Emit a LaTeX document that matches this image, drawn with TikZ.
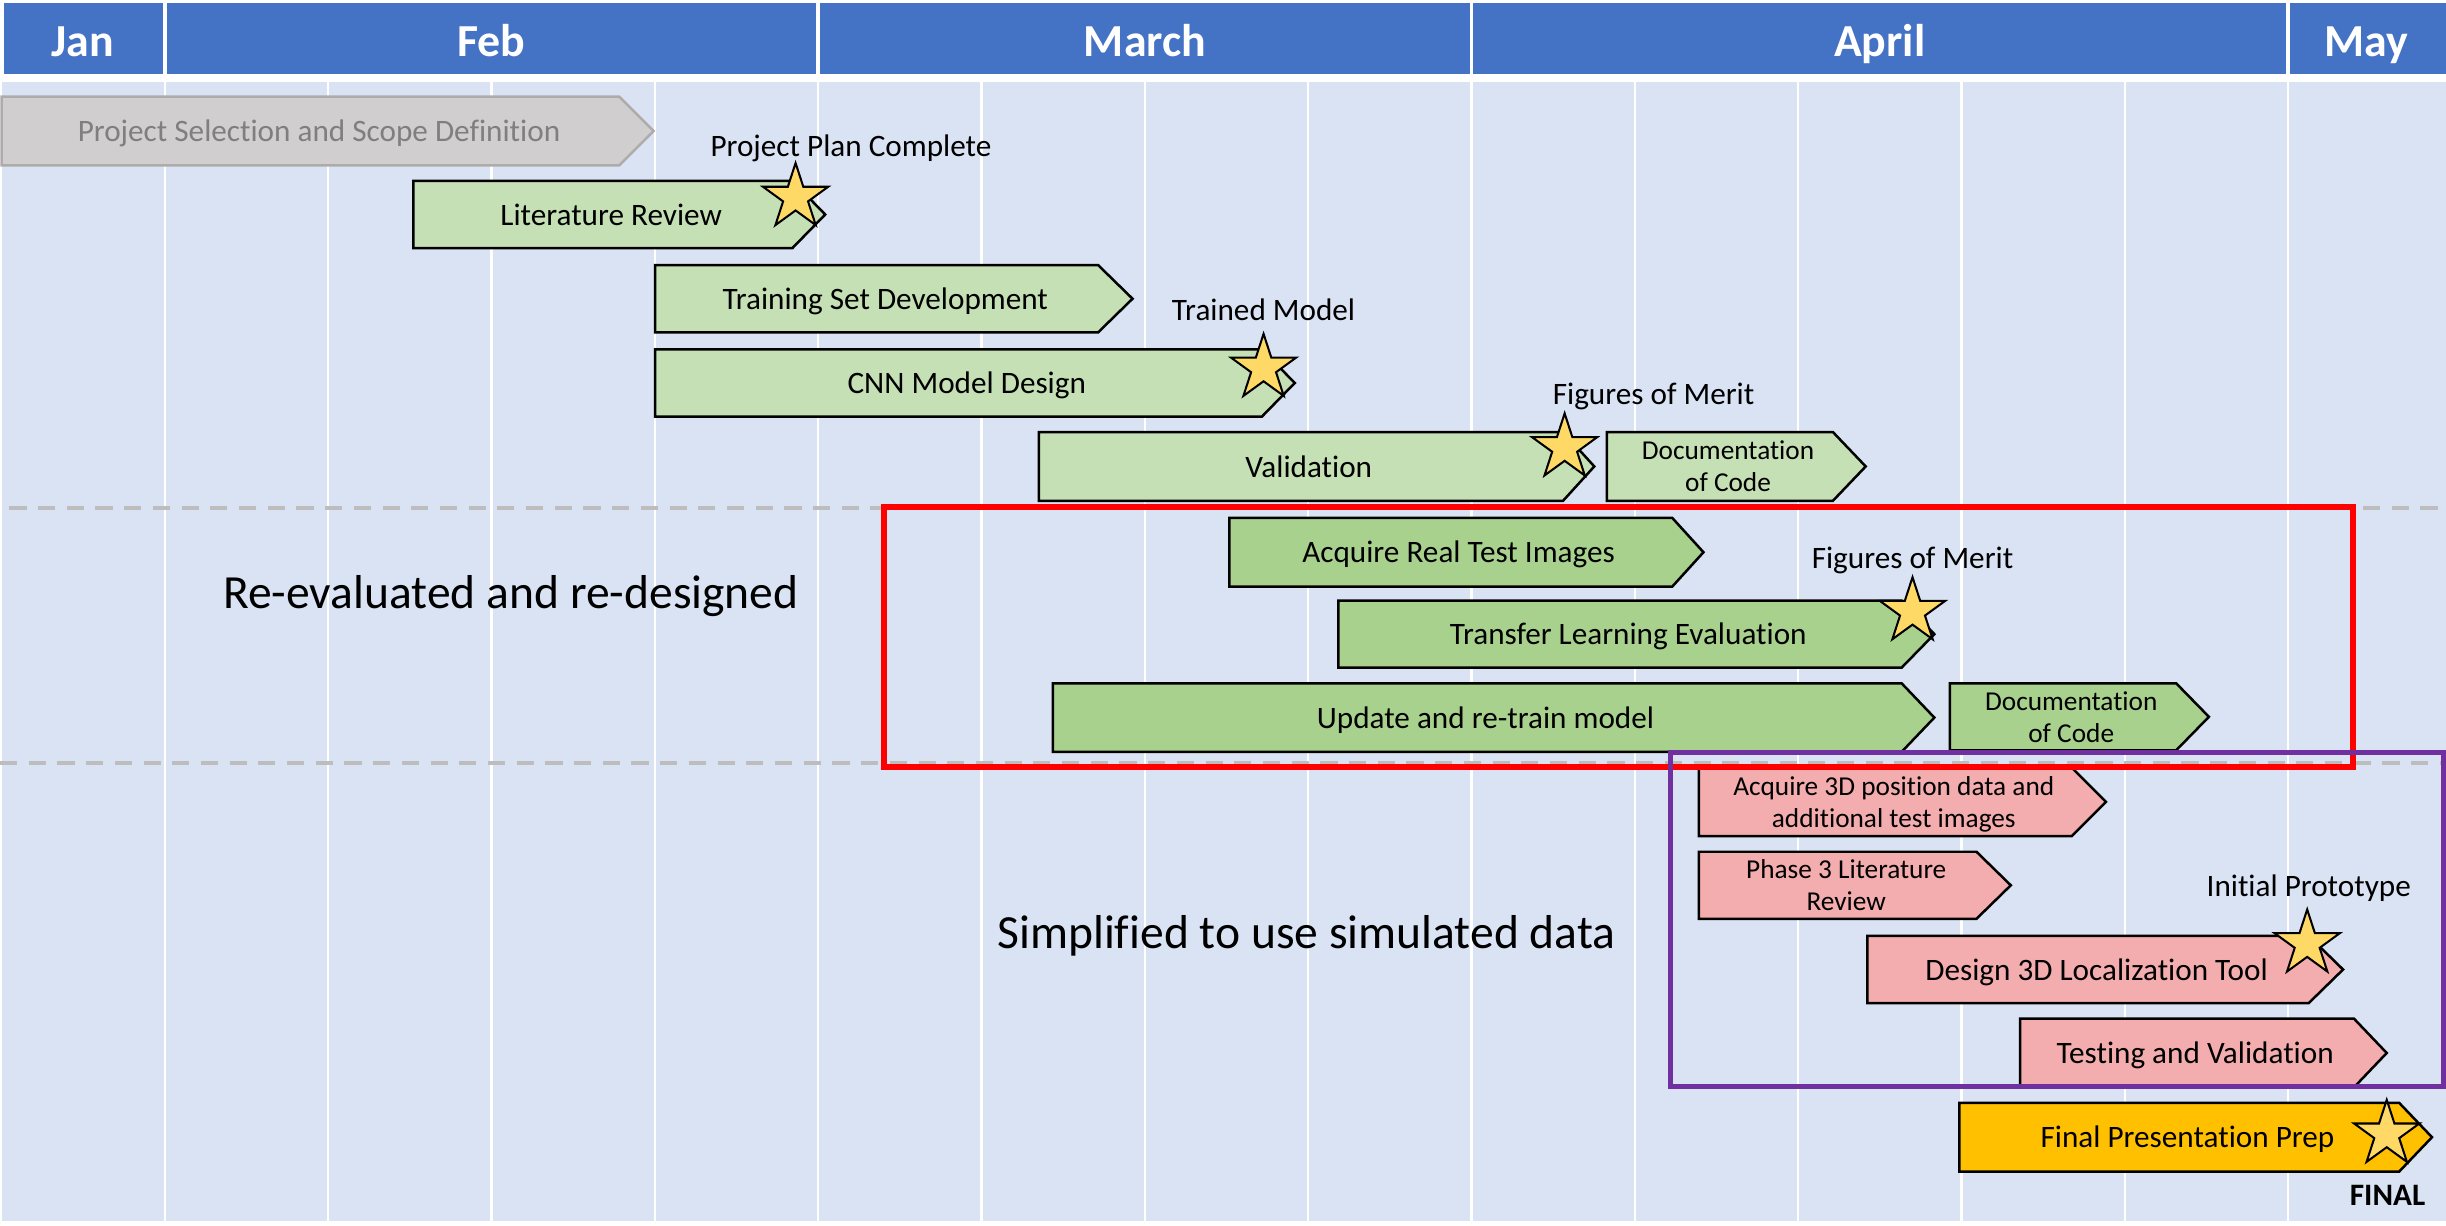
\documentclass[tikz,border=0pt]{standalone}
\usepackage{fontspec}
\setmainfont{Carlito}[Ligatures=NoCommon]
\usetikzlibrary{shapes.geometric}
\definecolor{hdr}{HTML}{4472C4}
\definecolor{bodybg}{HTML}{DAE3F3}
\definecolor{dashgray}{HTML}{BDBDBD}
\definecolor{grayfill}{HTML}{D0CECE}
\definecolor{graydraw}{HTML}{AFABAB}
\definecolor{graytext}{HTML}{7F7F7F}
\definecolor{lgreen}{HTML}{C5E0B4}
\definecolor{dgreen}{HTML}{A9D18E}
\definecolor{pinkfill}{HTML}{F4ADAE}
\definecolor{orangefill}{HTML}{FFC000}
\definecolor{starfill}{HTML}{FFD966}
\definecolor{redbox}{HTML}{FF0000}
\definecolor{purplebox}{HTML}{7030A0}
\newcommand{\gtask}[8]{%
  \draw[#7] (#2,#5) -- (#3,#5) -- (#4,{(#5+#6)/2}) -- (#3,#6) -- (#2,#6) -- cycle;
  \node[tasktxt] (#1) at ({(#2+#3)/2+(#4-#3)/4},{(#5+#6)/2+6.8}) {#8};}
\newcommand{\gtasktwo}[9]{%
  \draw[#7] (#2,#5) -- (#3,#5) -- (#4,{(#5+#6)/2}) -- (#3,#6) -- (#2,#6) -- cycle;
  \node[smalltxt] (#1a) at ({(#2+#3)/2+(#4-#3)/4},{(#5+#6)/2-4.3}) {#8};
  \node[smalltxt] (#1b) at ({(#2+#3)/2+(#4-#3)/4},{(#5+#6)/2+16.2}) {#9};}
\begin{document}
\begin{tikzpicture}[x=1pt,y=-1pt,
  hdrtxt/.style={anchor=base, inner sep=0, text=white, font=\fontsize{29.4}{34}\selectfont\bfseries},
  tasktxt/.style={anchor=base, inner sep=0, text=black, font=\fontsize{20}{24}\selectfont},
  smalltxt/.style={anchor=base, inner sep=0, text=black, font=\fontsize{17.5}{21}\selectfont},
  lbltxt/.style={anchor=base, inner sep=0, text=black, font=\fontsize{20}{24}\selectfont},
  bigtxt/.style={anchor=base, inner sep=0, text=black, font=\fontsize{30.5}{36}\selectfont},
  lgtask/.style={fill=lgreen, draw=black, line width=1.6pt, line join=miter},
  dgtask/.style={fill=dgreen, draw=black, line width=1.6pt, line join=miter},
  pktask/.style={fill=pinkfill, draw=black, line width=1.6pt, line join=miter},
  ortask/.style={fill=orangefill, draw=black, line width=1.6pt, line join=miter},
  mstar/.style={star, star points=5, star point ratio=2.618, minimum size=44pt, inner sep=0,
    fill=starfill, draw=black, line width=1.3pt},
  gridline/.style={white, line width=1.5pt},
  sepline/.style={dashgray, line width=2.2pt, dash pattern=on 11pt off 7.4pt}
]
\useasboundingbox (0,0) rectangle (1568,785.3);
\fill[white] (0,0) rectangle (1568,785.3);
% header
\fill[hdr] (2.5,1.7) rectangle (1568,47.4);
\foreach \mx in {105.7,524.5,943.3,1466.8}
  \draw[white, line width=2.5pt] (\mx,0) -- (\mx,48);
\node[hdrtxt] (jan) at (53,36.3) {Jan};
\node[hdrtxt] (feb) at (315,36.3) {Feb};
\node[hdrtxt] (mar) at (734,36.3) {March};
\node[hdrtxt] (apr) at (1205,36.3) {April};
\node[hdrtxt] (may) at (1517,36.3) {May};
% body
\fill[bodybg] (1.6,52.4) rectangle (1568,783);
\foreach \k in {1,...,14}
  \draw[gridline] ({1+\k*104.7},52.4) -- ({1+\k*104.7},783);
% separators
\draw[sepline] (6,325.6) -- (1568,325.6);
\draw[sepline] (0,489) -- (1568,489);
% gray task
\draw[fill=grayfill, draw=graydraw, line width=1.6pt] (1,62) -- (397,62) -- (419,84) -- (397,106) -- (1,106) -- cycle;
\node[tasktxt, text=graytext] (pssd) at (204.5,90.8) {Project Selection and Scope Definition};
% tasks
\gtask{lit}{265}{508}{529}{116}{159}{lgtask}{Literature Review}
\gtask{tsd}{420}{704}{726}{170}{213}{lgtask}{Training Set Development}
\gtask{cnn}{420}{809}{830}{224}{267}{lgtask}{CNN Model Design}
\gtask{val}{666}{1002}{1022}{277}{321}{lgtask}{Validation}
\gtasktwo{doca}{1030}{1175}{1196}{277}{321}{lgtask}{Documentation}{of Code}
\gtask{acq}{788}{1072}{1092}{332}{376}{dgtask}{Acquire Real Test Images}
\gtask{tle}{858}{1219}{1240}{385}{428}{dgtask}{Transfer Learning Evaluation}
\gtask{upd}{675}{1219}{1240}{438}{482}{dgtask}{Update and re-train model}
\gtasktwo{docb}{1250}{1395}{1416}{438}{481}{dgtask}{Documentation}{of Code}
\gtasktwo{acqd}{1089}{1328}{1350}{492}{536}{pktask}{Acquire 3D position data and}{additional test images}
\gtasktwo{phl}{1089}{1267}{1289}{546}{589}{pktask}{Phase 3 Literature}{Review}
\gtask{dlt}{1197}{1480}{1502}{600}{643}{pktask}{Design 3D Localization Tool}
\gtask{tav}{1295}{1509}{1530}{653}{697}{pktask}{Testing and Validation}
\gtask{fpp}{1256}{1538}{1559}{707}{751}{ortask}{Final Presentation Prep}
% stars
\node[mstar] (s1) at (510,126.5) {};
\node[mstar] (s2) at (810,236) {};
\node[mstar] (s3) at (1003,287) {};
\node[mstar] (s4) at (1226,392) {};
\node[mstar] (s5) at (1479,605) {};
\node[mstar] (s6) at (1530,727) {};
% milestone labels
\node[lbltxt] (l1) at (545.5,100.4) {Project Plan Complete};
\node[lbltxt] (l2) at (810,205.6) {Trained Model};
\node[lbltxt] (l3) at (1060,259.6) {Figures of Merit};
\node[lbltxt] (l4) at (1226,364.3) {Figures of Merit};
\node[lbltxt] (l5) at (1480,574.8) {Initial Prototype};
\node[lbltxt, font=\fontsize{20}{24}\selectfont\bfseries] (l6) at (1530.5,772.5) {FINAL};
% notes
\node[bigtxt] (n1) at (327.5,390) {Re-evaluated and re-designed};
\node[bigtxt] (n2) at (837.5,608) {Simplified to use simulated data};
% boxes
\draw[redbox, line width=3.8pt] (566.5,325) rectangle (1508.5,491.5);
\draw[purplebox, line width=3pt] (1071,482.5) rectangle (1566.5,696.5);
\end{tikzpicture}
\end{document}
